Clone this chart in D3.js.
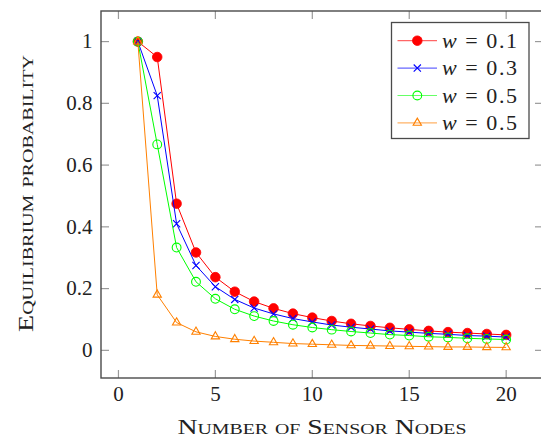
<!DOCTYPE html>
<html>
<head>
<meta charset="utf-8">
<script src="https://cdn.jsdelivr.net/npm/d3@7"></script>
<style>
  html, body { margin: 0; padding: 0; background: #fff; }
  svg { display: block; }
</style>
</head>
<body>
<svg id="chart" width="541" height="437" font-family="'Liberation Serif', 'Times New Roman', 'DejaVu Serif', serif"></svg>
<script>
// Number of sensor nodes (x values)
const nodes = [1, 2, 3, 4, 5, 6, 7, 8, 9, 10, 11, 12, 13, 14, 15, 16, 17, 18, 19, 20];

// Equilibrium probability per weight setting
const probW01 = [1, 0.95, 0.475, 0.317, 0.237, 0.19, 0.158, 0.136, 0.119, 0.106, 0.095, 0.086, 0.079, 0.073, 0.068, 0.063, 0.059, 0.056, 0.053, 0.05];
const probW03 = [1, 0.825, 0.41, 0.275, 0.206, 0.165, 0.137, 0.118, 0.103, 0.092, 0.082, 0.075, 0.069, 0.063, 0.059, 0.055, 0.052, 0.048, 0.046, 0.043];
const probW05 = [1, 0.667, 0.333, 0.222, 0.167, 0.133, 0.111, 0.095, 0.083, 0.074, 0.067, 0.061, 0.056, 0.051, 0.048, 0.044, 0.042, 0.039, 0.037, 0.035];
const probW05b = [1, 0.18, 0.09, 0.06, 0.045, 0.036, 0.03, 0.026, 0.022, 0.02, 0.018, 0.016, 0.015, 0.014, 0.013, 0.012, 0.011, 0.011, 0.01, 0.0095];

const seriesLabels = ["0.1", "0.3", "0.5", "0.5"];

// Axis ticks
const xTicks = [0, 5, 10, 15, 20];
const yTicks = [0, 0.2, 0.4, 0.6, 0.8, 1];

const series = [
  { values: probW01, label: seriesLabels[0], color: "#ff0000", mark: "dot" },
  { values: probW03, label: seriesLabels[1], color: "#0000ff", mark: "x" },
  { values: probW05, label: seriesLabels[2], color: "#00ff00", mark: "o" },
  { values: probW05b, label: seriesLabels[3], color: "#ff8000", mark: "tri" }
];

const FONT = "'Liberation Serif', 'Times New Roman', 'DejaVu Serif', serif";
const TEXT = "#222";
const svg = d3.select("#chart");

// Plot box (axis limits are enlarged by 10% of the data range on each side)
const box = { left: 101, right: 543, top: 11, bottom: 378 };
const xPad = (d3.max(nodes) - d3.min(nodes)) * 0.1;
const allVals = series.flatMap(s => s.values);
const yMin = d3.min(allVals), yMax = d3.max(allVals);
const yPad = (yMax - yMin) * 0.1;

const x = d3.scaleLinear()
  .domain([d3.min(nodes) - xPad, d3.max(nodes) + xPad])
  .range([box.left, box.right]);
const y = d3.scaleLinear()
  .domain([yMin - yPad, yMax + yPad])
  .range([box.bottom, box.top]);

const tickLen = 8;
const tickColor = "#9a9a9a";
const axisColor = "#4a4a4a";

// Inward ticks on all four sides
const ticks = svg.append("g").attr("stroke", tickColor).attr("stroke-width", 1.2);
xTicks.forEach(t => {
  ticks.append("line").attr("x1", x(t)).attr("x2", x(t))
    .attr("y1", box.bottom).attr("y2", box.bottom - tickLen);
  ticks.append("line").attr("x1", x(t)).attr("x2", x(t))
    .attr("y1", box.top).attr("y2", box.top + tickLen);
});
yTicks.forEach(t => {
  ticks.append("line").attr("x1", box.left).attr("x2", box.left + tickLen)
    .attr("y1", y(t)).attr("y2", y(t));
  ticks.append("line").attr("x1", box.right).attr("x2", box.right - tickLen)
    .attr("y1", y(t)).attr("y2", y(t));
});

// Tick labels
const fmt = v => (v === 0 || v === 1) ? String(v) : d3.format(".1f")(v);
svg.append("g").selectAll("text").data(xTicks).join("text")
  .attr("x", d => x(d)).attr("y", 401)
  .attr("text-anchor", "middle").attr("font-size", 21)
  .attr("font-family", FONT).attr("fill", TEXT)
  .text(d => d);
svg.append("g").selectAll("text").data(yTicks).join("text")
  .attr("x", 92.5).attr("y", d => y(d) + 6.8)
  .attr("text-anchor", "end").attr("font-size", 21)
  .attr("font-family", FONT).attr("fill", TEXT)
  .text(fmt);

// Axis labels
svg.append("text")
  .attr("x", (box.left + box.right) / 2).attr("y", 433.5)
  .attr("text-anchor", "middle").attr("font-size", 21)
  .attr("font-family", FONT).attr("fill", TEXT)
  .style("font-variant", "small-caps")
  .attr("textLength", 289).attr("lengthAdjust", "spacingAndGlyphs")
  .text("Number of Sensor Nodes");
svg.append("text")
  .attr("transform", "translate(32.5,193.5) rotate(-90)")
  .attr("text-anchor", "middle").attr("font-size", 21)
  .attr("font-family", FONT).attr("fill", TEXT)
  .style("font-variant", "small-caps")
  .attr("textLength", 277).attr("lengthAdjust", "spacingAndGlyphs")
  .text("Equilibrium probability");

// Marker drawing helper
function drawMark(g, mark, color, cx, cy) {
  if (mark === "dot") {
    g.append("circle").attr("cx", cx).attr("cy", cy).attr("r", 4.8)
      .attr("fill", color).attr("stroke", color).attr("stroke-width", 0.8);
  } else if (mark === "x") {
    const s = 3.6;
    g.append("path")
      .attr("d", `M${cx - s},${cy - s}L${cx + s},${cy + s}M${cx - s},${cy + s}L${cx + s},${cy - s}`)
      .attr("stroke", color).attr("stroke-width", 1.1).attr("fill", "none");
  } else if (mark === "o") {
    g.append("circle").attr("cx", cx).attr("cy", cy).attr("r", 4.4)
      .attr("fill", "none").attr("stroke", color).attr("stroke-width", 1.1);
  } else if (mark === "tri") {
    const r = 4.8;
    const pts = [
      [cx, cy - r],
      [cx + r * Math.cos(Math.PI / 6), cy + r / 2],
      [cx - r * Math.cos(Math.PI / 6), cy + r / 2]
    ];
    g.append("path").attr("d", "M" + pts.map(p => p.join(",")).join("L") + "Z")
      .attr("fill", "none").attr("stroke", color).attr("stroke-width", 1.1);
  }
}

// Series: line then markers
const line = d3.line().x((d, i) => x(nodes[i])).y(d => y(d));
series.forEach(s => {
  const g = svg.append("g");
  g.append("path").datum(s.values).attr("d", line)
    .attr("fill", "none").attr("stroke", s.color).attr("stroke-width", 1);
  s.values.forEach((v, i) => drawMark(g, s.mark, s.color, x(nodes[i]), y(v)));
});

// Axis box
svg.append("rect")
  .attr("x", box.left).attr("y", box.top)
  .attr("width", box.right - box.left).attr("height", box.bottom - box.top)
  .attr("fill", "none").attr("stroke", axisColor).attr("stroke-width", 1.4);

// Legend
const lg = svg.append("g");
const lgBox = { x: 391.5, y: 22.5, w: 137.5, h: 116 };
lg.append("rect").attr("x", lgBox.x).attr("y", lgBox.y)
  .attr("width", lgBox.w).attr("height", lgBox.h)
  .attr("fill", "#fff").attr("stroke", axisColor).attr("stroke-width", 1.3);
series.forEach((s, i) => {
  const cy = 40.7 + i * 27.4;
  lg.append("line").attr("x1", 397.5).attr("x2", 437).attr("y1", cy).attr("y2", cy)
    .attr("stroke", s.color).attr("stroke-width", 1.2).attr("stroke-opacity", 0.6);
  drawMark(lg, s.mark, s.color, 417.3, cy);
  const t = lg.append("text").attr("x", 442).attr("y", cy + 7)
    .attr("font-size", 22).attr("font-family", FONT).attr("fill", TEXT)
    .attr("textLength", 75).attr("lengthAdjust", "spacing");
  t.append("tspan").attr("font-style", "italic").text("w");
  t.append("tspan").text(" = " + s.label);
});
</script>
</body>
</html>
